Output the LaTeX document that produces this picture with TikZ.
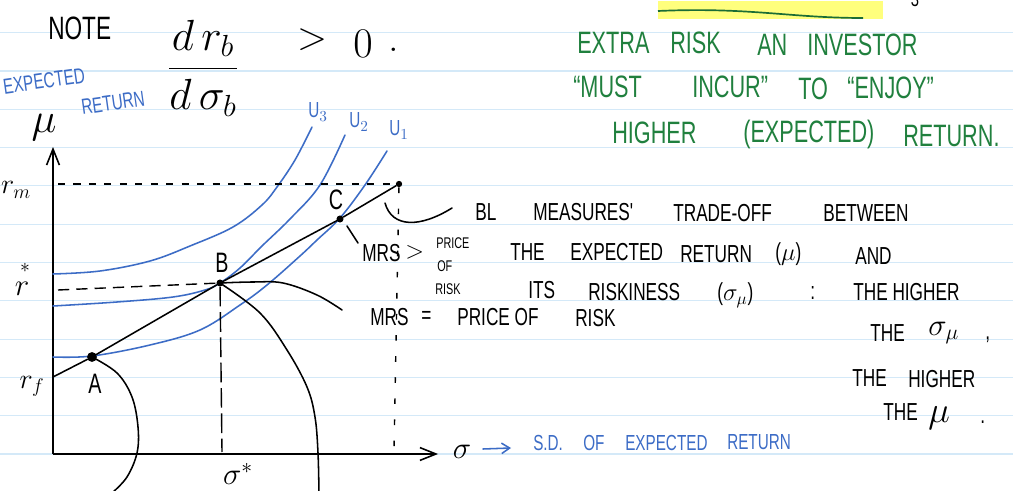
\RequirePackage{fix-cm}
\documentclass[tikz,border=0pt]{standalone}
\usepackage{fontspec}
\newfontfamily\hand[FakeStretch=0.7]{Liberation Sans}
\usetikzlibrary{arrows.meta}
\definecolor{rulecol}{RGB}{212,233,248}
\definecolor{inkblue}{RGB}{60,108,198}
\definecolor{inkgreen}{RGB}{32,128,62}
\definecolor{hilite}{RGB}{255,255,125}
\begin{document}
\begin{tikzpicture}[x=0.025cm,y=-0.025cm,
  every node/.style={inner sep=0pt},
  ink/.style={line width=1.1pt, line cap=round, line join=round},
  bcurve/.style={ink, draw=inkblue},
  kcurve/.style={ink, draw=black},
  ruling/.style={draw=rulecol, line width=0.8pt},
  gtxt/.style={font=\hand\fontsize{22}{26}\selectfont, text=inkgreen, anchor=west},
  ktxt/.style={font=\hand\fontsize{17.5}{20}\selectfont, anchor=west},
  stxt/.style={font=\hand\fontsize{11}{12}\selectfont, anchor=west},
  btxt/.style={font=\hand\fontsize{15.5}{18}\selectfont, text=inkblue},
  blob/.style={circle, fill=black, minimum size=#1, inner sep=0pt},
  axisln/.style={line width=1.1pt, -{Straight Barb[length=4mm,width=3.2mm]}},
]
\fill[white] (0,0) rectangle (1013,491);
\useasboundingbox (0,0) rectangle (1013,491);
\foreach \k in {0,...,11} {\draw[ruling] (0,{32.7+38.3*\k}) -- (1013,{32.7+38.3*\k});}

% highlight at top
\fill[hilite] (658,1) rectangle (883,19);
\draw[inkgreen!85!black, line width=1.2pt] (658,11) .. controls (750,7) and (790,18) .. (863,18);
\node[font=\hand\fontsize{15}{16}\selectfont] (pg) at (915,-1) {3};

% title formula
\node[ktxt, font=\hand\fontsize{23}{26}\selectfont] (note) at (48,28) {NOTE};
\node[font=\fontsize{31}{36}\selectfont] (frac) at (203,68) {$\displaystyle\frac{d\,r_b}{d\,\sigma_b}$};
\node[font=\fontsize{28}{32}\selectfont] (gt) at (312,40) {$>$};
\node[font=\fontsize{30}{34}\selectfont] (zero) at (363,44) {$0$};
\node[font=\fontsize{30}{34}\selectfont] (stop) at (394,50) {.};

% axes
\coordinate (O) at (53,454);
\coordinate (ytop) at (53,147);
\coordinate (xend) at (438,454);
\draw[axisln] (O) -- (ytop);
\draw[axisln] (O) -- (xend);

% axis labels
\node[font=\fontsize{30}{34}\selectfont] (mu) at (44,128) {$\mu$};
\node[font=\fontsize{20}{24}\selectfont] (rm) at (16,190) {$r_m$};
\node[font=\fontsize{14}{16}\selectfont] (rstar) at (25,268) {$*$};
\node[font=\fontsize{22}{26}\selectfont] (rs) at (22,289) {$r$};
\node[font=\fontsize{20}{24}\selectfont] (rfl) at (32,386) {$r_f$};
\node[font=\fontsize{22}{26}\selectfont] (ss) at (238,474) {$\sigma^{*}$};
\node[font=\fontsize{22}{26}\selectfont] (sig) at (462,452) {$\sigma$};
\node[btxt, rotate=8] (er1) at (44,81) {EXPECTED};
\node[btxt, rotate=8] (er2) at (113,103) {RETURN};

% indifference curves
\draw[bcurve] plot[smooth, tension=0.6] coordinates {(53,357) (92,356) (150,345) (200,330) (240,305) (267,285) (300,256) (317,240) (340,218) (365,185) (387,151)};
\draw[bcurve] plot[smooth, tension=0.6] coordinates {(53,306) (117,302) (173,297) (205,290) (220,283) (240,268) (262,246) (290,219) (320,185) (345,135)};
\draw[bcurve] plot[smooth, tension=0.6] coordinates {(53,274) (100,271) (150,261) (190,246) (233,227) (262,205) (277,187) (295,160) (312,127)};
\node[btxt] (u3) at (318,112) {U$_3$};
\node[btxt] (u2) at (359,122) {U$_2$};
\node[btxt] (u1) at (399,130) {U$_1$};

% points and budget line
\node[blob=7pt] (A) at (92,357) {};
\node[blob=5pt] (B) at (220,283) {};
\node[blob=5pt] (C) at (340,219) {};
\node[blob=4.5pt] (M) at (399,184) {};
\coordinate (rf) at (53,377);
\draw[kcurve] (rf) -- (A) -- (B) -- (C) -- (M);
\node[ktxt, anchor=center, font=\hand\fontsize{20}{22}\selectfont] (Al) at (95,384) {A};
\node[ktxt, anchor=center, font=\hand\fontsize{20}{22}\selectfont] (Bl) at (222,263) {B};
\node[ktxt, anchor=center, font=\hand\fontsize{20}{22}\selectfont] (Cl) at (336,200) {C};

% dashed guides
\coordinate (rmL) at (58,184);
\coordinate (rsL) at (58,290);
\coordinate (sB) at (222,452);
\coordinate (sM) at (394,450);
\draw[line width=1pt, dash pattern=on 5pt off 6pt] (rmL) -- (M);
\draw[line width=1pt, dash pattern=on 8pt off 5pt] (rsL) -- (B);
\draw[line width=1pt, dash pattern=on 14pt off 4pt] (B) -- (sB);
\draw[line width=1pt, dash pattern=on 4pt off 11pt] (M) -- (sM);

% opportunity curves
\draw[kcurve] plot[smooth, tension=0.6] coordinates {(A) (117,373) (132,397) (138,427) (137,453) (127,477) (112,493)};
\draw[kcurve] plot[smooth, tension=0.6] coordinates {(B) (260,313) (287,350) (307,387) (315,417) (318,453) (319,495)};
\draw[kcurve] plot[smooth, tension=0.6] coordinates {(B) (253,282) (283,283) (317,295) (342,310)};

% pointers
\coordinate (t1) at (347,226);
\coordinate (t2) at (358,243);
\draw[kcurve] (t1) -- (t2);
\coordinate (s1) at (385,203);
\coordinate (s2) at (452,208);
\draw[kcurve] (s1) .. controls (392,228) and (420,228) .. (s2);
\coordinate (ba1) at (483,449);
\coordinate (ba2) at (511,448);
\draw[bcurve, -{Straight Barb[length=2mm,width=2.6mm]}] (ba1) -- (ba2);

% blue sd label
\node[btxt, anchor=west] (sd1) at (533,443) {S.D.};
\node[btxt, anchor=west] (sd2) at (583,443) {OF};
\node[btxt, anchor=west] (sd3) at (625,443) {EXPECTED};
\node[btxt, anchor=west] (sd4) at (727,442) {RETURN};

% green text
\node[gtxt] (g1) at (577,43) {EXTRA};
\node[gtxt] (g2) at (670,43) {RISK};
\node[gtxt] (g3) at (757,45) {AN};
\node[gtxt] (g4) at (807,45) {INVESTOR};
\node[gtxt] (g5) at (573,87) {“MUST};
\node[gtxt] (g6) at (692,87) {INCUR”};
\node[gtxt] (g7) at (798,89) {TO};
\node[gtxt] (g8) at (847,88) {“ENJOY”};
\node[gtxt] (g9) at (612,133) {HIGHER};
\node[gtxt] (g10) at (743,134) {(EXPECTED)};
\node[gtxt] (g11) at (903,136) {RETURN.};

% black notes
\node[ktxt] (k1) at (475,212) {BL};
\node[ktxt] (k2) at (533,212) {MEASURES'};
\node[ktxt] (k3) at (673,213) {TRADE-OFF};
\node[ktxt] (k4) at (823,213) {BETWEEN};
\node[ktxt] (k5) at (362,253) {MRS};
\node[ktxt] (k6) at (405,252) {$>$};
\node[stxt] (k7a) at (436,243) {PRICE};
\node[stxt] (k7b) at (437,266) {OF};
\node[stxt] (k7c) at (435,289) {RISK};
\node[ktxt] (k8) at (510,252) {THE};
\node[ktxt] (k9) at (570,252) {EXPECTED};
\node[ktxt] (k10) at (680,254) {RETURN};
\node[ktxt] (k11) at (775,254) {($\mu$)};
\node[ktxt] (k12) at (855,256) {AND};
\node[ktxt] (k13) at (528,290) {ITS};
\node[ktxt] (k14) at (588,292) {RISKINESS};
\node[ktxt] (k15) at (717,295) {($\sigma_\mu$)};
\node[ktxt] (k16) at (810,293) {:};
\node[ktxt] (k17) at (853,292) {THE HIGHER};
\node[ktxt] (k18) at (370,317) {MRS};
\node[ktxt] (k19) at (421,317) {=};
\node[ktxt] (k20) at (457,317) {PRICE OF};
\node[ktxt] (k21) at (575,318) {RISK};
\node[ktxt] (k22) at (870,333) {THE};
\node[ktxt, font=\fontsize{22}{24}\selectfont] (k23) at (928,333) {$\sigma_\mu$};
\node[ktxt] (k24) at (985,340) {,};
\node[ktxt] (k25) at (852,378) {THE};
\node[ktxt] (k26) at (908,379) {HIGHER};
\node[ktxt] (k27) at (883,412) {THE};
\node[ktxt, font=\fontsize{26}{28}\selectfont] (k28) at (928,418) {$\mu$};
\node[ktxt] (k29) at (980,422) {.};
\end{tikzpicture}
\end{document}
